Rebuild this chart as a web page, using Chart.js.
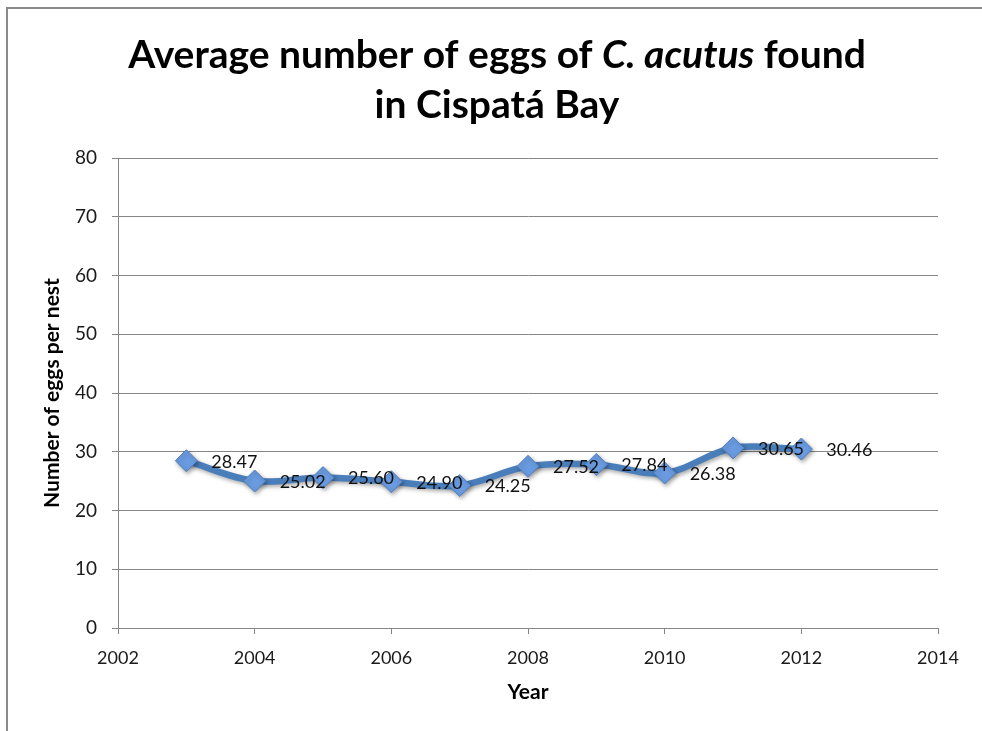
<!DOCTYPE html>
<html>
<head>
<meta charset="utf-8">
<script src="https://cdn.jsdelivr.net/npm/chart.js@4/dist/chart.umd.min.js"></script>
<style>
  html, body { margin: 0; padding: 0; background: #ffffff; }
  #wrap { width: 982px; height: 731px; }
</style>
</head>
<body>
<div id="wrap"><canvas id="c" width="982" height="731"></canvas></div>
<script>
// Nesting seasons and mean clutch size per nest
const years = [2003, 2004, 2005, 2006, 2007, 2008, 2009, 2010, 2011, 2012];
const eggsPerNest = [28.47, 25.02, 25.60, 24.90, 24.25, 27.52, 27.84, 26.38, 30.65, 30.46];

// Axis ranges
const xRange = { min: 2002, max: 2014, step: 2 };
const yRange = { min: 0, max: 80, step: 10 };

// Title text, split into upright / italic runs
const titleLine1 = [["Average number of eggs of ", false], ["C. acutus", true], [" found", false]];
const titleLine2 = [["in Cispatá Bay", false]];
const xTitle = "Year";
const yTitle = "Number of eggs per nest";

const FONT = "Lato, 'Open Sans', sans-serif";
const GRID = "#868686";

const points = years.map((y, i) => ({ x: y, y: eggsPerNest[i] }));

// Frame, titles and axis titles
const decorPlugin = {
  id: 'decor',
  beforeDraw(chart) {
    const ctx = chart.ctx;
    ctx.save();
    ctx.fillStyle = '#ffffff';
    ctx.fillRect(0, 0, chart.width, chart.height);
    ctx.strokeStyle = '#8a8a8a';
    ctx.lineWidth = 2;
    ctx.beginPath();
    ctx.moveTo(7, chart.height);
    ctx.lineTo(7, 8);
    ctx.lineTo(chart.width, 8);
    ctx.stroke();
    ctx.restore();
  },
  afterDraw(chart) {
    const ctx = chart.ctx;
    const area = chart.chartArea;
    ctx.save();
    ctx.fillStyle = '#000000';
    ctx.textBaseline = 'middle';
    const drawRuns = (runs, cx, cy, size) => {
      const fontFor = it => (it ? 'italic ' : '') + 'bold ' + size + 'px ' + FONT;
      let total = 0;
      runs.forEach(([t, it]) => { ctx.font = fontFor(it); total += ctx.measureText(t).width; });
      let x = cx - total / 2;
      ctx.textAlign = 'left';
      runs.forEach(([t, it]) => {
        ctx.font = fontFor(it);
        ctx.fillText(t, x, cy);
        x += ctx.measureText(t).width;
      });
    };
    drawRuns(titleLine1, 497, 55, 39);
    drawRuns(titleLine2, 497, 105, 39);

    ctx.font = 'bold 21px ' + FONT;
    ctx.textAlign = 'center';
    ctx.fillText(xTitle, (area.left + area.right) / 2, 692);
    ctx.translate(52, (area.top + area.bottom) / 2);
    ctx.rotate(-Math.PI / 2);
    ctx.fillText(yTitle, 0, 0);
    ctx.restore();
  }
};

// Soft drop shadow under the series line and markers
const shadowPlugin = {
  id: 'seriesShadow',
  beforeDatasetDraw(chart) {
    const ctx = chart.ctx;
    ctx.save();
    ctx.shadowColor = 'rgba(0,0,0,0.35)';
    ctx.shadowBlur = 4;
    ctx.shadowOffsetX = 1.5;
    ctx.shadowOffsetY = 2;
  },
  afterDatasetDraw(chart) {
    chart.ctx.restore();
  }
};

// Value labels to the right of each marker
const valueLabelPlugin = {
  id: 'valueLabels',
  afterDatasetsDraw(chart) {
    const ctx = chart.ctx;
    const meta = chart.getDatasetMeta(0);
    ctx.save();
    ctx.font = '18px ' + FONT;
    ctx.fillStyle = '#111111';
    ctx.textAlign = 'left';
    ctx.textBaseline = 'middle';
    meta.data.forEach((pt, i) => {
      ctx.fillText(eggsPerNest[i].toFixed(2), pt.x + 25, pt.y + 1);
    });
    ctx.restore();
  }
};

new Chart(document.getElementById('c'), {
  type: 'scatter',
  data: {
    datasets: [{
      data: points,
      showLine: true,
      borderColor: '#4a7ebb',
      borderWidth: 6.5,
      tension: 0.35,
      pointStyle: 'rectRot',
      pointRadius: 11,
      pointHoverRadius: 11,
      pointBackgroundColor: '#6a9be0',
      pointBorderColor: '#4f81bd',
      pointBorderWidth: 1
    }]
  },
  options: {
    responsive: false,
    animation: false,
    events: [],
    layout: { padding: { left: 0, right: 44, top: 158, bottom: 0 } },
    plugins: {
      legend: { display: false },
      tooltip: { enabled: false },
      title: { display: false }
    },
    scales: {
      x: {
        type: 'linear',
        min: xRange.min,
        max: xRange.max,
        afterFit(scale) { scale.height = 103; },
        ticks: {
          stepSize: xRange.step,
          color: '#1a1a1a',
          font: { family: FONT, size: 18 },
          padding: 13,
          maxRotation: 0,
          callback: v => String(v)
        },
        grid: { drawOnChartArea: false, drawTicks: true, tickLength: 6, color: GRID },
        border: { display: true, color: GRID, width: 1 }
      },
      y: {
        min: yRange.min,
        max: yRange.max,
        afterFit(scale) { scale.width = 118; },
        ticks: {
          stepSize: yRange.step,
          color: '#1a1a1a',
          font: { family: FONT, size: 19 },
          padding: 15
        },
        grid: { drawOnChartArea: true, drawTicks: true, tickLength: 6, color: GRID },
        border: { display: true, color: GRID, width: 1 }
      }
    }
  },
  plugins: [decorPlugin, shadowPlugin, valueLabelPlugin]
});
</script>
</body>
</html>
